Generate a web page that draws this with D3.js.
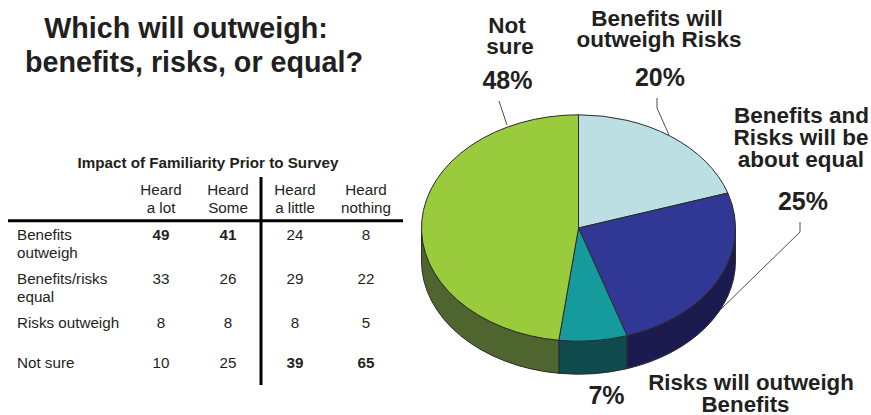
<!DOCTYPE html>
<html lang="en">
<head>
  <meta charset="UTF-8">
  <title>Which will outweigh</title>
  <script src="https://d3js.org/d3.v7.min.js"></script>
  <style>
    html, body { margin: 0; padding: 0; background: #fff; }
    svg { display: block; font-family: "Liberation Sans", sans-serif; fill: #231f20; }
    .wall, .top { stroke: #2b2b2b; stroke-width: 1; stroke-linejoin: round; }
    .leader { fill: none; stroke: #231f20; stroke-width: 0.8; }
    .rule { stroke: #000; }
  </style>
</head>
<body>
  <svg width="871" height="415"></svg>
  <script>
    // pie data, clockwise from 12 o'clock
    const slices = ["Benefits will outweigh Risks", "Benefits and Risks will be about equal", "Risks will outweigh Benefits", "Not sure"];
    const shares = [20, 25, 7, 48];
    const topColors = ["#bbdfe3", "#313794", "#159b9c", "#9acb3c"];
    const wallColors = ["#8aa5a8", "#1b1b4f", "#0f4a4d", "#4f6530"];

    // table data
    const columns = ["Heard a lot", "Heard Some", "Heard a little", "Heard nothing"];
    const columnLines = [["Heard", "a lot"], ["Heard", "Some"], ["Heard", "a little"], ["Heard", "nothing"]];
    const rows = ["Benefits outweigh", "Benefits/risks equal", "Risks outweigh", "Not sure"];
    const rowLines = [["Benefits", "outweigh"], ["Benefits/risks", "equal"], ["Risks outweigh"], ["Not sure"]];
    const heardLot = [49, 33, 8, 10];
    const heardSome = [41, 26, 8, 25];
    const heardLittle = [24, 29, 8, 39];
    const heardNothing = [8, 22, 5, 65];
    const boldCells = ["0-0", "0-1", "3-2", "3-3"];

    const svg = d3.select("svg");

    // title
    svg.append("g").selectAll("text")
      .data(["Which will outweigh:", "benefits, risks, or equal?"])
      .join("text")
      .attr("x", (d, i) => i ? 194 : 186)
      .attr("y", (d, i) => 38 + i * 33.5)
      .attr("text-anchor", "middle")
      .attr("font-size", 28.7)
      .attr("font-weight", "bold")
      .text(d => d);

    // table
    svg.append("text")
      .attr("x", 208).attr("y", 168)
      .attr("text-anchor", "middle")
      .attr("font-size", 15.2)
      .attr("font-weight", "bold")
      .text("Impact of Familiarity Prior to Survey");

    const colX = d3.scaleOrdinal().domain(columns).range([161, 228, 295, 366]);
    const rowY = d3.scaleOrdinal().domain(rows).range([239.5, 284, 328, 368]);
    const cols = [heardLot, heardSome, heardLittle, heardNothing];

    const head = svg.append("g").selectAll("g").data(columns).join("g");
    head.selectAll("text")
      .data((c, i) => columnLines[i].map((t, k) => ({ c, t, k })))
      .join("text")
      .attr("x", d => colX(d.c))
      .attr("y", d => 195 + d.k * 18)
      .attr("text-anchor", "middle")
      .attr("font-size", 15.2)
      .text(d => d.t);

    const rowHead = svg.append("g").selectAll("g").data(rows).join("g");
    rowHead.selectAll("text")
      .data((r, i) => rowLines[i].map((t, k) => ({ r, t, k })))
      .join("text")
      .attr("x", 17)
      .attr("y", d => rowY(d.r) + d.k * 18)
      .attr("font-size", 15.2)
      .text(d => d.t);

    cols.forEach((vals, c) => {
      svg.append("g").selectAll("text")
        .data(vals)
        .join("text")
        .attr("x", colX(columns[c]))
        .attr("y", (d, r) => rowY(rows[r]))
        .attr("text-anchor", "middle")
        .attr("font-size", 15.2)
        .attr("font-weight", (d, r) => boldCells.includes(r + "-" + c) ? "bold" : null)
        .text(d => d);
    });

    svg.append("line").attr("class", "rule")
      .attr("x1", 8).attr("x2", 403).attr("y1", 220.7).attr("y2", 220.7).attr("stroke-width", 3);
    svg.append("line").attr("class", "rule")
      .attr("x1", 261).attr("x2", 261).attr("y1", 177).attr("y2", 385).attr("stroke-width", 3);

    // 3d pie: flat arcs squashed into an ellipse, walls hung below
    const cx = 578.5, cy = 228, rx = 157, ry = 113.2, depth = 33;
    const pie = d3.pie().sort(null).value(d => d.value);
    const arcs = pie(shares.map((value, i) => ({ value, i })));
    const onRim = a => [cx + rx * Math.sin(a), cy - ry * Math.cos(a)];

    function wallPath(a0, a1) {
      // only the front part of the rim shows, between 3 and 9 o'clock
      const from = Math.max(a0, Math.PI / 2), to = Math.min(a1, Math.PI * 1.5);
      if (to <= from) return null;
      const s = onRim(from), e = onRim(to);
      const large = to - from > Math.PI ? 1 : 0;
      return `M${s[0]},${s[1]}L${s[0]},${s[1] + depth}` +
        `A${rx},${ry} 0 ${large} 1 ${e[0]},${e[1] + depth}L${e[0]},${e[1]}` +
        `A${rx},${ry} 0 ${large} 0 ${s[0]},${s[1]}Z`;
    }

    svg.append("g").selectAll("path")
      .data(arcs.filter(d => wallPath(d.startAngle, d.endAngle)))
      .join("path")
      .attr("class", "wall")
      .attr("fill", d => wallColors[d.data.i])
      .attr("d", d => wallPath(d.startAngle, d.endAngle));

    const arc = d3.arc().innerRadius(0).outerRadius(rx);
    svg.append("g")
      .attr("transform", `translate(${cx},${cy}) scale(1,${ry / rx})`)
      .selectAll("path")
      .data(arcs)
      .join("path")
      .attr("class", "top")
      .attr("vector-effect", "non-scaling-stroke")
      .attr("fill", d => topColors[d.data.i])
      .attr("d", arc);

    // leaders
    const leaders = [
      [[507, 125], [499, 101]],
      [[669, 135], [657, 108], [657, 98]],
      [[718, 312], [800, 232], [800, 222]]
    ];
    svg.append("g").selectAll("path")
      .data(leaders)
      .join("path")
      .attr("class", "leader")
      .attr("d", d3.line());

    // pie labels
    const labels = [
      { t: "Not", x: 507, y: 33, s: 22.5 },
      { t: "sure", x: 510, y: 54, s: 22.5 },
      { t: "48%", x: 507.5, y: 89, s: 25 },
      { t: "Benefits will", x: 657, y: 25.5, s: 22.5 },
      { t: "outweigh Risks", x: 659, y: 47, s: 22.5 },
      { t: "20%", x: 660, y: 86, s: 25 },
      { t: "Benefits and", x: 801.5, y: 123, s: 22.5 },
      { t: "Risks will be", x: 801, y: 145, s: 22.5 },
      { t: "about equal", x: 801, y: 167, s: 22.5 },
      { t: "25%", x: 803, y: 210, s: 25 },
      { t: "7%", x: 606.5, y: 404, s: 25 },
      { t: "Risks will outweigh", x: 751, y: 390, s: 22.3 },
      { t: "Benefits", x: 745.5, y: 412, s: 22.3 }
    ];
    svg.append("g").selectAll("text")
      .data(labels)
      .join("text")
      .attr("x", d => d.x)
      .attr("y", d => d.y)
      .attr("text-anchor", "middle")
      .attr("font-weight", "bold")
      .attr("font-size", d => d.s)
      .text(d => d.t);
  </script>
</body>
</html>
